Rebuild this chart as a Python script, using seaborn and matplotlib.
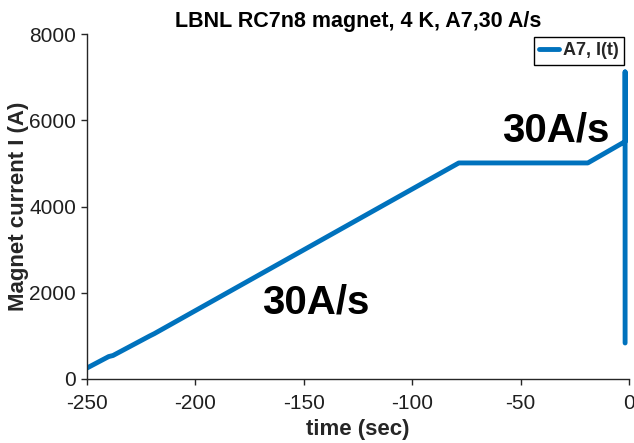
import numpy as np
import pandas as pd
import matplotlib
matplotlib.use('Agg')
import matplotlib.pyplot as plt
import seaborn as sns

# Data (time in sec, current in A)
time_sec = [-250, -240, -238, -221, -219, -78.5, -19, -2.2, -1.8, -1.8, -1.8]
current_a = [255, 520, 545, 1000, 1050, 5010, 5010, 5495, 5500, 7120, 835]
ramp_labels = ['30A/s', '30A/s']
ramp_label_t = [-144.6, -33.7]
ramp_label_i = [1530, 5496]
x_ticks = [-250, -200, -150, -100, -50, 0]
y_ticks = [0, 2000, 4000, 6000, 8000]

df = pd.DataFrame({'time': time_sec, 'current': current_a})

sns.set_style('ticks')
plt.rcParams['font.family'] = ['Liberation Sans', 'DejaVu Sans']
plt.rcParams['axes.unicode_minus'] = False

fig = plt.figure(figsize=(6.34, 4.43), dpi=100)
ax = fig.add_axes([87 / 634, 1 - 379 / 443, 542 / 634, 345 / 443])

sns.lineplot(data=df, x='time', y='current', sort=False, estimator=None,
             color='#0072BD', linewidth=3.5, label='A7, I(t)', ax=ax)

for txt, t, i in zip(ramp_labels, ramp_label_t, ramp_label_i):
    ax.text(t, i, txt, fontsize=29, fontweight='bold', ha='center', va='baseline', color='black')

ax.set_xlim(-250, 0)
ax.set_ylim(0, 8000)
ax.set_xticks(x_ticks)
ax.set_yticks(y_ticks)
ax.tick_params(direction='out', length=4, width=1, color='#262626', labelsize=15,
               labelcolor='#1f1f1f')
ax.tick_params(axis='x', pad=7)
ax.tick_params(axis='y', pad=4)

for side in ['top', 'right']:
    ax.spines[side].set_visible(False)
for side in ['left', 'bottom']:
    ax.spines[side].set_color('#262626')
    ax.spines[side].set_linewidth(1)

ax.set_xlabel('time (sec)', fontsize=16, fontweight='bold', color='#262626', labelpad=4)
ax.set_ylabel('Magnet current I (A)', fontsize=16, fontweight='bold', color='#262626')
ax.yaxis.set_label_coords((29 - 87) / 542, 0.5)

fig.text(358 / 634, 1 - 27 / 443, 'LBNL RC7n8 magnet, 4 K, A7,30 A/s', fontsize=15.5,
         fontweight='bold', ha='center', va='baseline', color='black')

leg = ax.legend(loc='upper right', bbox_to_anchor=(624 / 634, 1 - 37 / 443),
                bbox_transform=fig.transFigure, borderaxespad=0, fancybox=False,
                frameon=True, handlelength=1.1, handletextpad=0.2,
                borderpad=0.3, prop={'weight': 'bold', 'size': 13})
leg.get_frame().set_edgecolor('black')
leg.get_frame().set_linewidth(1)
leg.get_frame().set_alpha(1)

fig.savefig('out.png', dpi=100)
